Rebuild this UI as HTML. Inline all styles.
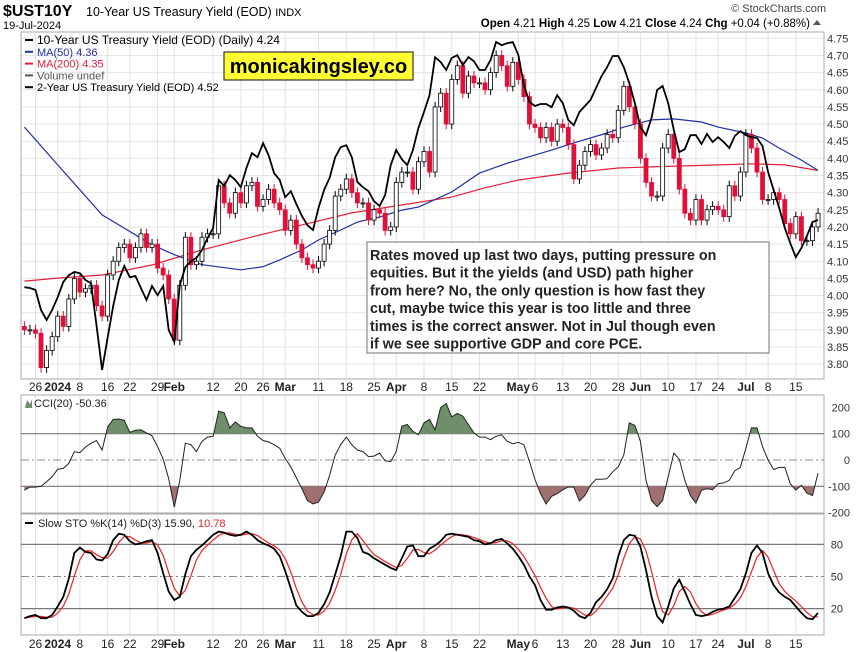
<!DOCTYPE html>
<html><head><meta charset="utf-8"><style>
html,body{margin:0;padding:0;background:#fff;}
svg{display:block;font-family:"Liberation Sans",sans-serif;}
</style></head><body>
<svg id="chart" width="863" height="652" viewBox="0 0 863 652" xmlns="http://www.w3.org/2000/svg">
<rect x="0" y="0" width="863" height="652" fill="#fff"/>
<text x="3" y="16" font-size="16" font-weight="bold">$UST10Y</text>
<text x="86" y="16" font-size="12.5">10-Year US Treasury Yield (EOD) <tspan font-size="11">INDX</tspan></text>
<text x="3" y="29" font-size="11">19-Jul-2024</text>
<text x="826" y="12" font-size="11" text-anchor="end" fill="#444">© StockCharts.com</text>
<text x="810" y="27" font-size="11.5" text-anchor="end"><tspan font-weight="bold">Open</tspan> 4.21  <tspan font-weight="bold">High</tspan> 4.25  <tspan font-weight="bold">Low</tspan> 4.21  <tspan font-weight="bold">Close</tspan> 4.24  <tspan font-weight="bold">Chg</tspan> +0.04 (+0.88%)</text>
<path d="M813,25 L817,20 L821,25 Z" fill="#555"/>
<g id="main"></g>
<g id="cci"></g>
<g id="sto"></g>
</svg>
<script>
const closes10y=[3.90,3.90,3.89,3.79,3.84,3.88,
3.94,3.91,3.99,4.05,4.01,4.02,4.03,3.97,3.94,4.06,4.10,4.14,4.15,4.11,4.14,4.18,4.14,4.15,4.08,4.06,3.99,
3.87,4.03,4.17,4.09,4.10,4.17,4.18,4.18,4.32,4.27,4.24,4.30,4.27,4.32,4.33,4.26,4.28,4.31,4.27,4.25,
4.19,4.22,4.15,4.11,4.09,4.08,4.10,4.15,4.19,4.29,4.31,4.34,4.30,4.27,4.27,4.22,4.25,4.24,4.19,4.20,
4.33,4.36,4.36,4.31,4.39,4.42,4.36,4.55,4.59,4.50,4.63,4.67,4.59,4.64,4.62,4.62,4.60,4.65,4.70,4.67,4.61,4.68,
4.63,4.58,4.50,4.49,4.46,4.49,4.45,4.50,4.49,4.44,4.34,4.38,4.42,4.44,4.41,4.43,4.47,4.46,4.54,4.61,4.55,4.50,
4.40,4.33,4.29,4.29,4.43,4.47,4.40,4.31,4.24,4.22,4.28,4.22,4.25,4.26,4.25,4.23,4.32,4.29,4.36,
4.47,4.43,4.36,4.28,4.28,4.30,4.28,4.21,4.18,4.23,4.16,4.16,4.20,4.24];
const firstOpen=3.91;
const twoYear=[4.352,4.350,4.345,4.295,4.270,4.295,4.327,4.365,4.382,4.390,4.387,4.370,4.362,4.257,4.145,4.227,4.305,4.370,4.405,4.377,4.380,4.350,4.320,4.355,4.332,4.355,4.245,4.215,4.357,4.402,4.417,4.425,4.445,4.475,4.500,4.620,4.605,4.632,4.620,4.602,4.650,4.687,4.677,4.712,4.682,4.637,4.620,4.577,4.592,4.560,4.530,4.507,4.495,4.550,4.595,4.625,4.677,4.702,4.707,4.677,4.615,4.602,4.592,4.567,4.555,4.582,4.657,4.695,4.672,4.657,4.695,4.750,4.790,4.832,4.927,4.915,4.895,4.925,4.932,4.907,4.927,4.917,4.895,4.895,4.920,4.965,4.957,4.962,4.965,4.932,4.857,4.815,4.805,4.810,4.810,4.802,4.832,4.812,4.770,4.757,4.790,4.805,4.820,4.850,4.880,4.902,4.930,4.930,4.902,4.862,4.812,4.752,4.732,4.775,4.845,4.855,4.812,4.745,4.690,4.697,4.732,4.732,4.710,4.735,4.715,4.727,4.715,4.700,4.730,4.742,4.732,4.727,4.725,4.705,4.640,4.595,4.550,4.500,4.462,4.427,4.450,4.480,4.515,4.520];
const ma50Days=[0,6,14,17,23,27,32,39,43,46,50,53,57,60,64,68,71,77,82,87,95,99,105,108,113,117,122,125,130,133,136,140,143];
const ma50Vals=[4.491,4.381,4.235,4.206,4.148,4.119,4.090,4.075,4.084,4.104,4.133,4.162,4.191,4.214,4.229,4.249,4.258,4.302,4.357,4.386,4.424,4.445,4.474,4.491,4.512,4.515,4.506,4.491,4.474,4.459,4.430,4.395,4.365];
const ma200Days=[0,6,14,23,32,41,50,59,68,77,83,89,98,107,113,125,131,137,143];
const ma200Vals=[4.042,4.051,4.060,4.089,4.133,4.171,4.206,4.241,4.264,4.287,4.314,4.337,4.357,4.372,4.375,4.381,4.384,4.381,4.365];
const cciVals=[-115,-103,-103,-100,-83,-64,-35,-32,-13,31,28,49,64,74,38,126,154,156,151,105,113,115,103,92,51,3,-71,-179,-77,64,58,32,71,87,90,186,179,122,145,128,122,122,90,74,69,58,45,6,-26,-67,-109,-154,-167,-160,-122,-58,19,58,87,58,38,32,13,15,26,-3,-6,32,128,135,109,96,141,154,115,199,215,164,177,167,135,103,87,87,77,90,96,71,62,67,58,-6,-74,-128,-167,-138,-128,-113,-103,-103,-156,-135,-96,-73,-73,-71,-45,-26,19,141,131,71,-77,-154,-177,-154,-64,26,3,-77,-135,-164,-115,-109,-113,-90,-87,-77,-41,-28,45,122,122,51,0,-36,-28,-28,-90,-115,-96,-126,-135,-50];
const stoK=[11,13,14,11,11,14,22,31,48,72,77,73,72,66,65,71,84,90,89,83,80,81,83,84,72,53,36,28,31,52,69,75,79,84,89,92,91,89,88,89,92,89,84,81,79,76,69,55,39,23,17,13,13,16,24,35,52,69,92,92,86,73,71,67,64,61,58,56,67,78,79,69,69,76,79,83,89,90,89,88,87,84,83,80,81,84,85,81,76,69,61,50,42,28,19,19,21,22,21,18,13,11,16,26,31,38,48,69,84,89,88,78,56,31,13,7,22,39,47,36,24,14,13,14,17,19,20,22,30,38,53,72,79,72,53,42,35,31,28,22,16,11,10,16];
const dateLabels=["26","2024","8","16","22","29","Feb","12","20","26","Mar","11","18","25","Apr","8","15","22","May","6","13","20","28","Jun","10","17","24","Jul","8","15"];
const dateDays=[2,6,10,15,19,24,27,34,39,43,47,53,58,63,67,72,77,82,89,92,97,102,107,111,116,121,125,130,134,139];
const priceTicks=[4.75,4.70,4.65,4.60,4.55,4.50,4.45,4.40,4.35,4.30,4.25,4.20,4.15,4.10,4.05,4.00,3.95,3.90,3.85,3.80];
const cciTicks=[200,100,0,-100,-200];
const stoTicks=[80,50,20];

const NS="http://www.w3.org/2000/svg";
const L=21,R=824;
const xOf=i=>24.4+i*5.55;
const yMain=v=>38.3+(4.75-v)*343;
const y2Y=v=>(5.07-v)*400;
const yCCI=v=>460-v*0.263;
const ySTO=v=>630-v*1.07;
function mk(parent,tag,attrs,txt){const e=document.createElementNS(NS,tag);for(const k in attrs)e.setAttribute(k,attrs[k]);if(txt!==undefined)e.textContent=txt;parent.appendChild(e);return e;}
const isBold=s=>/[A-Za-z]/.test(s)||s==="2024";

function panelFrame(g,top,bot,name){
  for(let j=0;j<dateDays.length;j++){
    const ln=mk(g,'line',{x1:xOf(dateDays[j]),x2:xOf(dateDays[j]),y1:top,y2:bot,stroke:'#e2e2e2','stroke-width':1});
    
    
  }
  const r=mk(g,'rect',{x:L,y:top,width:R-L,height:bot-top,fill:'none',stroke:'#aaa','stroke-width':1});
  
  
}
function dateAxis(g,y){
  for(let j=0;j<dateLabels.length;j++){
    const t=mk(g,'text',{x:xOf(dateDays[j]),y:y,'font-size':12,'text-anchor':'middle','font-weight':isBold(dateLabels[j])?'bold':'normal',fill:'#222'},dateLabels[j]);
    
    
  }
}
function linePath(vals,xf,yf){return vals.map((v,i)=>(i?'L':'M')+xf(i).toFixed(1)+','+yf(v).toFixed(1)).join(' ');}

// ---------- main panel ----------
const gm=document.getElementById('main');
const mTop=32,mBot=379;
for(const v of priceTicks){
  const ln=mk(gm,'line',{x1:L,x2:R,y1:yMain(v),y2:yMain(v),stroke:'#e4e4e4'});
  
  
  const t=mk(gm,'text',{x:827,y:yMain(v)+4,'font-size':11,fill:'#333'},v.toFixed(2));
  
  
}
panelFrame(gm,mTop,mBot,'price-panel');
dateAxis(gm,391);
// MA lines
const ma200=mk(gm,'path',{d:ma200Days.map((d,i)=>(i?'L':'M')+xOf(d).toFixed(1)+','+yMain(ma200Vals[i]).toFixed(1)).join(' '),fill:'none',stroke:'#e0203a','stroke-width':1.2});


const ma50=mk(gm,'path',{d:ma50Days.map((d,i)=>(i?'L':'M')+xOf(d).toFixed(1)+','+yMain(ma50Vals[i]).toFixed(1)).join(' '),fill:'none',stroke:'#2030a0','stroke-width':1.2});


// candles
for(let i=0;i<closes10y.length;i++){
  const c=closes10y[i],o=i?closes10y[i-1]:firstOpen;
  const hi=Math.max(o,c)+0.015,lo=Math.min(o,c)-0.015;
  const up=c>=o;const col=up?'#000':'#e0103a';
  const w=mk(gm,'line',{x1:xOf(i),x2:xOf(i),y1:yMain(hi),y2:yMain(lo),stroke:col,'stroke-width':1});
  
  
  const yt=yMain(Math.max(o,c)),yb=yMain(Math.min(o,c));
  const b=mk(gm,'rect',{x:xOf(i)-2,y:yt,width:4,height:Math.max(1,yb-yt),fill:up?'#fff':'#e0103a',stroke:col,'stroke-width':0.8});
  
  
}
const l2=mk(gm,'path',{d:linePath(twoYear,xOf,y2Y),fill:'none',stroke:'#000','stroke-width':1.8});


// legend
const leg=[["10-Year US Treasury Yield (EOD) (Daily) 4.24","#000"],["MA(50) 4.36","#2030a0"],["MA(200) 4.35","#e0203a"],["Volume undef","#555"],["2-Year US Treasury Yield (EOD) 4.52","#000"]];
leg.forEach((e,k)=>{
  const y=44+k*11.8;
  const s=mk(gm,'rect',{x:25,y:y-5,width:8,height:2,fill:e[1]});
  
  
  const t=mk(gm,'text',{x:37,y:y,'font-size':k===0?12:11,fill:e[1]},e[0]);
  
  
});
// watermark
const wm=mk(gm,'rect',{x:224,y:52,width:189,height:28,fill:'#ffff33',stroke:'#333','stroke-width':1.2});


const wt=mk(gm,'text',{x:318.5,y:73,'font-size':20,'font-weight':'bold','text-anchor':'middle'},'monicakingsley.co');


// annotation
const ab=mk(gm,'rect',{x:367,y:242,width:402,height:111,fill:'#fff',stroke:'#888','stroke-width':1.2});


const notes=["Rates moved up last two days, putting pressure on","equities. But it the yields (and USD) path higher","from here? No, the only question is how fast they","cut, maybe twice this year is too little and three","times is the correct answer. Not in Jul though even","if we see supportive GDP and core PCE."];
notes.forEach((s,k)=>{
  const t=mk(gm,'text',{x:370,y:260+k*17.7,'font-size':14.3,'font-weight':'bold',fill:'#222'},s);
  
  
});

// ---------- CCI panel ----------
const gc=document.getElementById('cci');
const cTop=395,cBot=513;
panelFrame(gc,cTop,cBot,'cci-panel');
for(const v of cciTicks){
  if(v===100||v===-100){const ln=mk(gc,'line',{x1:L,x2:R,y1:yCCI(v),y2:yCCI(v),stroke:'#777','stroke-width':1.2});}
  if(v===0){const ln=mk(gc,'line',{x1:L,x2:R,y1:yCCI(0),y2:yCCI(0),stroke:'#888','stroke-dasharray':'8,3,2,3'});}
  const t=mk(gc,'text',{x:850,y:yCCI(v)+4,'font-size':11,'text-anchor':'end',fill:'#333'},String(v));
  
  
}
const defs=mk(document.getElementById('chart'),'defs',{});
const cp1=mk(defs,'clipPath',{id:'above100'});mk(cp1,'rect',{x:L,y:cTop,width:R-L,height:yCCI(100)-cTop});
const cp2=mk(defs,'clipPath',{id:'below100'});mk(cp2,'rect',{x:L,y:yCCI(-100),width:R-L,height:cBot-yCCI(-100)});
const lp=linePath(cciVals,xOf,yCCI);
const last=cciVals.length-1;
const fa=mk(gc,'path',{d:lp+` L${xOf(last)},${yCCI(100)} L${xOf(0)},${yCCI(100)} Z`,fill:'#6e8f6a','clip-path':'url(#above100)'});


const fb=mk(gc,'path',{d:lp+` L${xOf(last)},${yCCI(-100)} L${xOf(0)},${yCCI(-100)} Z`,fill:'#a07070','clip-path':'url(#below100)'});


const cl=mk(gc,'path',{d:lp,fill:'none',stroke:'#222','stroke-width':1});


const ct=mk(gc,'text',{x:34,y:407,'font-size':11,fill:'#222'},'CCI(20) -50.36');


const ci=mk(gc,'path',{d:'M25,408 L27,400 L30,404 L32,399 L32,408 Z',fill:'#6e8f6a'});



// ---------- STO panel ----------
const gs=document.getElementById('sto');
const sTop=514,sBot=635;
panelFrame(gs,sTop,sBot,'sto-panel');
for(const v of stoTicks){
  const ln=mk(gs,'line',v===50?{x1:L,x2:R,y1:ySTO(v),y2:ySTO(v),stroke:'#888','stroke-dasharray':'8,3,2,3'}:{x1:L,x2:R,y1:ySTO(v),y2:ySTO(v),stroke:'#777','stroke-width':1.2});
  
  
  const t=mk(gs,'text',{x:843,y:ySTO(v)+4,'font-size':11,'text-anchor':'end',fill:'#333'},String(v));
  
  
}
const stoD=stoK.map((v,i)=>{const a=stoK.slice(Math.max(0,i-2),i+1);return a.reduce((s,x)=>s+x,0)/a.length;});
const dl=mk(gs,'path',{d:linePath(stoD,xOf,ySTO),fill:'none',stroke:'#ee2020','stroke-width':1.2});


const kl=mk(gs,'path',{d:linePath(stoK,xOf,ySTO),fill:'none',stroke:'#000','stroke-width':1.8});


const st=mk(gs,'text',{x:38,y:527,'font-size':11,fill:'#222'});


mk(st,'tspan',{},'Slow STO %K(14) %D(3) 15.90, ');
mk(st,'tspan',{fill:'#ee2020'},'10.78');
const sw=mk(gs,'rect',{x:25,y:522,width:8,height:2,fill:'#000'});


dateAxis(gs,648);
</script>
</body></html>
